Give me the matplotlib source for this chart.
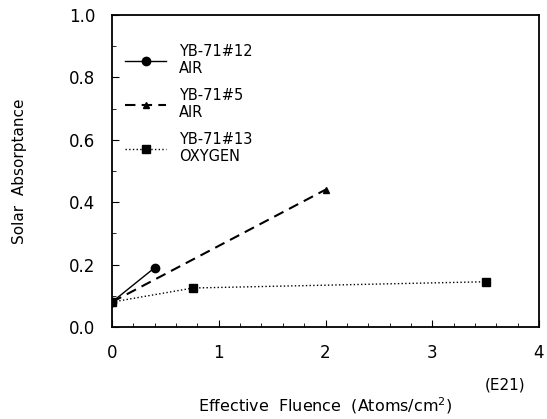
import numpy as np
import matplotlib
matplotlib.use("Agg")
import matplotlib.pyplot as plt
from matplotlib.ticker import MultipleLocator

# fluence (E21 atoms/cm^2) and solar absorptance
x_12 = [0.0, 0.4]
y_12 = [0.08, 0.19]
x_5 = [0.0, 2.0]
y_5 = [0.08, 0.44]
x_13 = [0.0, 0.76, 3.5]
y_13 = [0.08, 0.125, 0.145]
labels = ['YB-71#12\nAIR', 'YB-71#5\nAIR', 'YB-71#13\nOXYGEN']

plt.rcParams['font.family'] = 'DejaVu Sans'
fig = plt.figure(figsize=(5.47, 4.19), dpi=100)
ax = fig.add_axes([112 / 547, 1 - 327 / 419, 427 / 547, 312 / 419])

ax.plot(x_12, y_12, '-', color='black', lw=1.0, marker='o', ms=6, label=labels[0])
ax.plot(x_5, y_5, '--', color='black', lw=1.5, dashes=(5, 3), marker='^', ms=5, label=labels[1])
ax.plot(x_13, y_13, ':', color='black', lw=1.0, marker='s', ms=6, label=labels[2])

ax.set_xlim(0, 4)
ax.set_ylim(0, 1.0)
ax.xaxis.set_major_locator(MultipleLocator(1))
ax.xaxis.set_minor_locator(MultipleLocator(0.2))
ax.yaxis.set_major_locator(MultipleLocator(0.2))
ax.yaxis.set_minor_locator(MultipleLocator(0.1))
ax.yaxis.set_major_formatter(plt.FormatStrFormatter('%.1f'))
ax.tick_params(which='both', direction='in', labelsize=12, top=False, right=False)
ax.tick_params(which='major', length=5)
ax.tick_params(axis='y', which='major', pad=12)
ax.tick_params(axis='x', which='major', pad=12)
ax.tick_params(which='minor', length=3)
for s in ax.spines.values():
    s.set_linewidth(1.3)

ax.set_ylabel('Solar  Absorptance', fontsize=11, labelpad=30)
ax.set_xlabel('Effective  Fluence  (Atoms/cm$^2$)', fontsize=11.5, labelpad=24)
ax.text(0.92, -0.2, '(E21)', transform=ax.transAxes, ha='center', fontsize=11)

ax.legend(loc='upper left', frameon=False, fontsize=10.5, handlelength=2.8,
          labelspacing=0.8, handletextpad=0.9, bbox_to_anchor=(0.0, 0.95))

fig.savefig('out.png', dpi=100)
